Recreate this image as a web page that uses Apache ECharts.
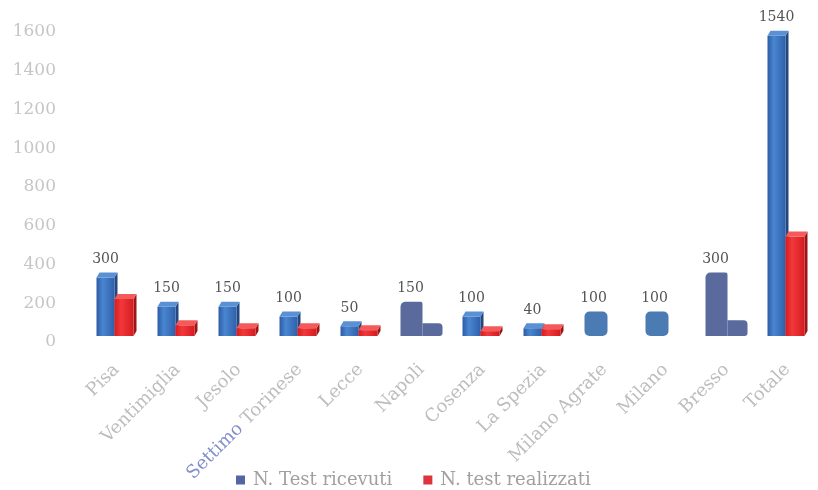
<!DOCTYPE html>
<html>
<head>
<meta charset="utf-8">
<script src="https://cdn.jsdelivr.net/npm/echarts@6/dist/echarts.min.js"></script>
<style>
  html, body { margin: 0; padding: 0; background: #fff; }
  #chart { width: 818px; height: 490px; }
</style>
</head>
<body>
<div id="chart"></div>
<script>
// Test per sede: ricevuti vs realizzati
const categories = ['Pisa', 'Ventimiglia', 'Jesolo', 'Settimo Torinese', 'Lecce', 'Napoli',
  'Cosenza', 'La Spezia', 'Milano Agrate', 'Milano', 'Bresso', 'Totale'];
const ricevuti = [300, 150, 150, 100, 50, 150, 100, 40, 100, 100, 300, 1540];
const realizzati = [190, 55, 40, 40, 30, 40, 25, 35, 0, 0, 55, 510];
const seriesNames = ['N. Test ricevuti', 'N. test realizzati'];
const yMin = 0, yMax = 1600, yStep = 200;

// Sites drawn with flat (non-bevelled) bars
const flatSlate = ['Napoli', 'Bresso'];
const flatRounded = ['Milano Agrate', 'Milano'];

const SERIF = '"DejaVu Serif", "Liberation Serif", serif';
const DEPTH_X = 3, DEPTH_Y = 5;

const palette = [
  { front: ['#2c5ca6', '#4a86d0', '#2f60aa'], top: '#5a90d4', side: '#24477f' },
  { front: ['#d81c20', '#f2383a', '#d41c20'], top: '#f45a5a', side: '#9c1414' }
];

function lin(stops) {
  return {
    type: 'linear', x: 0, y: 0, x2: 1, y2: 0,
    colorStops: [
      { offset: 0, color: stops[0] },
      { offset: 0.35, color: stops[1] },
      { offset: 1, color: stops[2] }
    ]
  };
}

function makeRender(k) {
  return function (params, api) {
    const i = api.value(0);
    const v = api.value(1);
    if (!v) return { type: 'group', children: [] };
    const base = api.coord([i, 0]);
    const top = api.coord([i, v]);
    const cx = base[0];
    const name = categories[i];
    const children = [];
    const h = base[1] - top[1];

    if (flatSlate.indexOf(name) >= 0) {
      const x = k === 0 ? cx - 21 : cx + 1;
      const w = k === 0 ? 22 : 20;
      children.push({
        type: 'rect',
        shape: {
          x: x, y: top[1] - DEPTH_Y, width: w, height: h + DEPTH_Y,
          r: k === 0 ? [5, 2, 0, 0] : [0, 4, 3, 0]
        },
        style: { fill: '#5b6a9c' }
      });
    } else if (flatRounded.indexOf(name) >= 0) {
      const x = cx - 20, w = 23;
      children.push({
        type: 'rect',
        shape: { x: x, y: top[1] - DEPTH_Y, width: w, height: h + DEPTH_Y, r: 5 },
        style: { fill: '#4a7bb3' }
      });
    } else {
      const p = palette[k];
      const x = k === 0 ? cx - 20 : cx - 2;
      const w = k === 0 ? 18 : 19;
      const dx = DEPTH_X, dy = DEPTH_Y;
      // side face
      children.push({
        type: 'polygon',
        shape: { points: [[x + w, top[1]], [x + w + dx, top[1] - dy], [x + w + dx, base[1] - dy], [x + w, base[1]]] },
        style: { fill: p.side }
      });
      // front face
      children.push({
        type: 'rect',
        shape: { x: x, y: top[1], width: w, height: h },
        style: { fill: lin(p.front) }
      });
      // top face
      children.push({
        type: 'polygon',
        shape: { points: [[x, top[1]], [x + dx, top[1] - dy], [x + w + dx, top[1] - dy], [x + w, top[1]]] },
        style: { fill: p.top }
      });
    }

    if (k === 0) {
      children.push({
        type: 'text',
        style: {
          text: String(v),
          x: cx - 11,
          y: top[1] - 11,
          align: 'center',
          verticalAlign: 'bottom',
          font: '14px ' + SERIF,
          fill: '#555'
        }
      });
    }
    return { type: 'group', children: children };
  };
}

const chart = echarts.init(document.getElementById('chart'), null, { renderer: 'canvas' });

chart.setOption({
  animation: false,
  backgroundColor: '#ffffff',
  legend: {
    left: 236,
    top: 470,
    itemWidth: 9,
    itemHeight: 9,
    itemGap: 31,
    padding: 0,
    icon: 'rect',
    textStyle: { fontFamily: SERIF, fontSize: 18, lineHeight: 20, color: '#a0a0a0', padding: [0, 0, 0, 3] },
    data: seriesNames
  },
  grid: [
    // bar area (bars stand on the floor)
    { left: 86, width: 748, top: 24, bottom: 154 },
    // value scale shown on the back wall
    { left: 86, width: 748, top: 32, bottom: 148 }
  ],
  xAxis: [
    {
      type: 'category',
      gridIndex: 0,
      data: categories,
      axisLine: { show: false },
      axisTick: { show: false },
      axisLabel: {
        rotate: 45,
        interval: 0,
        margin: 31,
        fontFamily: SERIF,
        fontSize: 18,
        color: '#bdbdbd',
        formatter: function (val) {
          return val === 'Settimo Torinese' ? '{b|Settimo} Torinese' : val;
        },
        rich: {
          b: { fontFamily: SERIF, fontSize: 18, color: '#8290c8' }
        }
      }
    },
    {
      type: 'category',
      gridIndex: 1,
      data: categories,
      show: false
    }
  ],
  yAxis: [
    {
      type: 'value',
      gridIndex: 0,
      min: yMin, max: yMax, interval: yStep,
      show: false
    },
    {
      type: 'value',
      gridIndex: 1,
      min: yMin, max: yMax, interval: yStep,
      axisLine: { show: false },
      axisTick: { show: false },
      splitLine: { show: false },
      axisLabel: {
        margin: 30,
        fontFamily: SERIF,
        fontSize: 17,
        color: '#c6c6c6',
        formatter: function (v) { return String(v); }
      }
    }
  ],
  series: [
    {
      name: seriesNames[0],
      type: 'custom',
      xAxisIndex: 0, yAxisIndex: 0,
      renderItem: makeRender(0),
      itemStyle: { color: '#5664a4' },
      encode: { x: 0, y: 1 },
      data: ricevuti.map(function (v, i) { return [i, v]; }),
      z: 2
    },
    {
      name: seriesNames[1],
      type: 'custom',
      xAxisIndex: 0, yAxisIndex: 0,
      renderItem: makeRender(1),
      itemStyle: { color: '#e0323e' },
      encode: { x: 0, y: 1 },
      data: realizzati.map(function (v, i) { return [i, v]; }),
      z: 3
    }
  ]
});
</script>
</body>
</html>
